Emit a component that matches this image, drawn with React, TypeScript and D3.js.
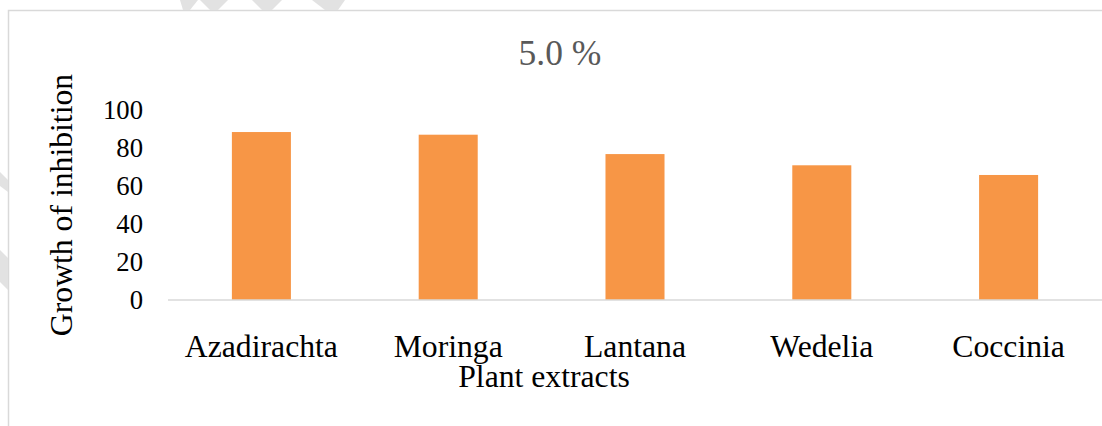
import React, { useEffect, useRef } from "react";
import * as d3 from "d3";

const categories = ["Azadirachta", "Moringa", "Lantana", "Wedelia", "Coccinia"];
const inhibition = [88.4, 87.0, 76.8, 70.9, 65.8];
const yTicks = [0, 20, 40, 60, 80, 100];
const chartTitle = "5.0 %";
const xTitle = "Plant extracts";
const yTitle = "Growth of inhibition";

const W = 1102;
const H = 426;
const serif = "'Liberation Serif', 'Times New Roman', serif";

export default function App() {
  const ref = useRef<SVGSVGElement>(null);

  useEffect(() => {
    const svg = d3.select(ref.current);
    svg.selectAll("*").remove();

    // chart frame (runs off the right and bottom of the picture)
    svg
      .append("rect")
      .attr("x", 8.5)
      .attr("y", 10.5)
      .attr("width", W + 20)
      .attr("height", H + 20)
      .attr("fill", "#fff")
      .attr("stroke", "#d9d9d9")
      .attr("stroke-width", 1.5);

    // faint watermark marks near the edges
    const marks: [number, number][][] = [
      [[180, 0], [198, 0], [190, 10], [183, 10]],
      [[200, 0], [228, 0], [218, 10], [210, 10]],
      [[252, 0], [282, 0], [272, 10], [262, 10]],
      [[312, 0], [345, 0], [338, 10], [325, 10]],
      [[0, 172], [8, 180], [8, 192], [0, 186]],
      [[0, 250], [8, 258], [8, 290], [0, 282]],
    ];
    svg
      .append("g")
      .selectAll("path")
      .data(marks)
      .join("path")
      .attr("d", (d) => d3.line()(d) + "Z")
      .attr("fill", "#e2e2e2");

    const x = d3
      .scaleBand<string>()
      .domain(categories)
      .range([168, 1102])
      .paddingInner(0.684)
      .paddingOuter(0.342);

    const y = d3.scaleLinear().domain([0, 100]).range([300, 110]);

    // bars
    svg
      .append("g")
      .selectAll("rect")
      .data(categories)
      .join("rect")
      .attr("x", (d) => x(d) ?? 0)
      .attr("y", (_, i) => y(inhibition[i]))
      .attr("width", x.bandwidth())
      .attr("height", (_, i) => y(0) - y(inhibition[i]))
      .attr("fill", "#F79646");

    // x axis line
    svg
      .append("line")
      .attr("x1", 168)
      .attr("x2", 1102)
      .attr("y1", y(0))
      .attr("y2", y(0))
      .attr("stroke", "#d9d9d9")
      .attr("stroke-width", 1.5);

    // y tick labels
    svg
      .append("g")
      .selectAll("text")
      .data(yTicks)
      .join("text")
      .attr("x", 143)
      .attr("y", (d) => y(d) + 9)
      .attr("text-anchor", "end")
      .attr("font-family", serif)
      .attr("font-size", 26.7)
      .attr("fill", "#000")
      .text((d) => d);

    // category labels
    svg
      .append("g")
      .selectAll("text")
      .data(categories)
      .join("text")
      .attr("x", (d) => (x(d) ?? 0) + x.bandwidth() / 2)
      .attr("y", 357)
      .attr("text-anchor", "middle")
      .attr("font-family", serif)
      .attr("font-size", 31.7)
      .attr("fill", "#000")
      .text((d) => d);

    svg
      .append("text")
      .attr("x", 544)
      .attr("y", 387)
      .attr("text-anchor", "middle")
      .attr("font-family", serif)
      .attr("font-size", 31.7)
      .attr("fill", "#000")
      .text(xTitle);

    svg
      .append("text")
      .attr("transform", "translate(72,205) rotate(-90)")
      .attr("text-anchor", "middle")
      .attr("font-family", serif)
      .attr("font-size", 31.7)
      .attr("fill", "#000")
      .text(yTitle);

    svg
      .append("text")
      .attr("x", 560)
      .attr("y", 65)
      .attr("text-anchor", "middle")
      .attr("font-family", serif)
      .attr("font-size", 35.5)
      .attr("fill", "#595959")
      .text(chartTitle);
  }, []);

  return (
    <svg
      ref={ref}
      width={W}
      height={H}
      style={{ position: "absolute", left: 0, top: 0, display: "block" }}
    />
  );
}
